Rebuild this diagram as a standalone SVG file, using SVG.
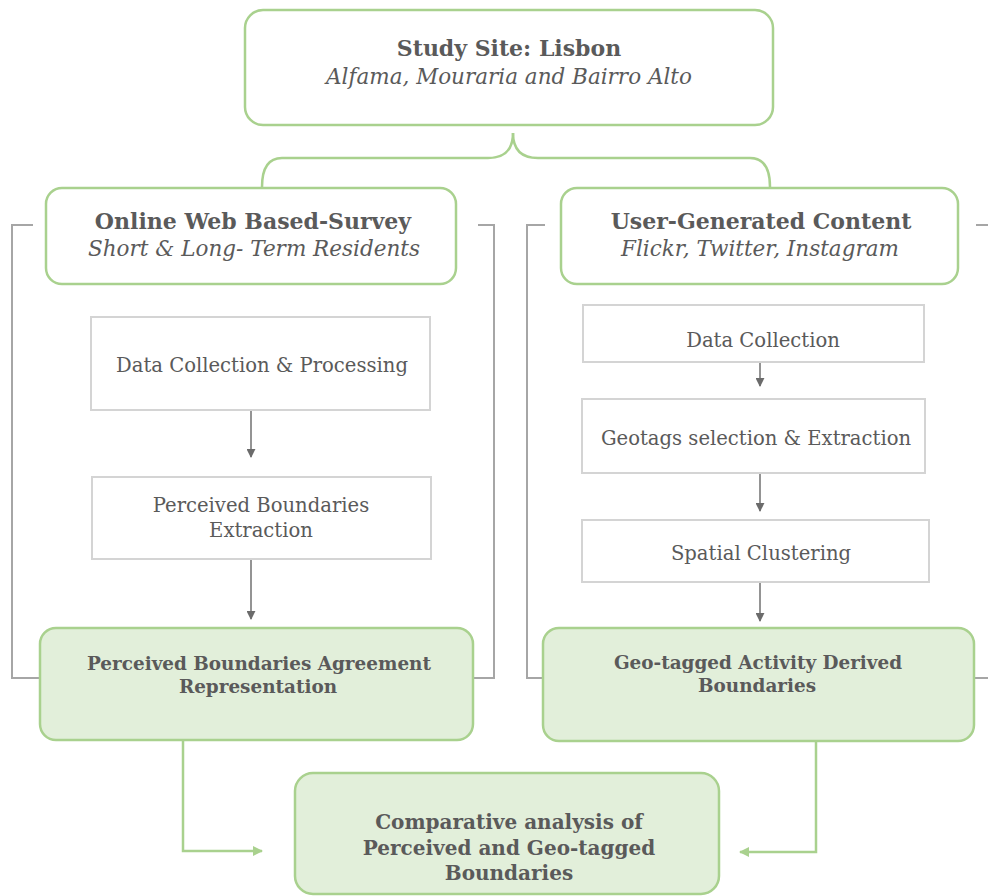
<svg xmlns="http://www.w3.org/2000/svg" width="988" height="896" viewBox="0 0 988 896">
<defs>
<style>
.g{fill:#fff;stroke:#a9d18e;stroke-width:2.5}
.gf{fill:#e2efda;stroke:#a9d18e;stroke-width:2.5}
.b{fill:#fff;stroke:#d4d4d4;stroke-width:2}
.t{font-family:"DejaVu Serif","Liberation Serif",serif;fill:#5a5a5a;text-anchor:middle}
.bold{font-weight:bold}
.it{font-style:italic}
.gl{fill:none;stroke:#a6a6a6;stroke-width:2}
.ga{fill:none;stroke:#707070;stroke-width:1.5}
.gc{fill:none;stroke:#a9d18e;stroke-width:2.5}
</style>
<marker id="ah" viewBox="0 0 10 10" refX="9" refY="5" markerWidth="9" markerHeight="9" markerUnits="userSpaceOnUse" orient="auto"><path d="M0,0 L10,5 L0,10 z" fill="#6b6b6b"/></marker>
<marker id="gh" viewBox="0 0 10 10" refX="9" refY="5" markerWidth="10" markerHeight="10" markerUnits="userSpaceOnUse" orient="auto"><path d="M0,0 L10,5 L0,10 z" fill="#a9d18e"/></marker>
</defs>
<g id="connectors">
<path class="gc" d="M513,133 Q513,158 538,158 L750,158 Q770,158 770,187"/>
<path class="gc" d="M513,133 Q513,158 488,158 L282,158 Q262,158 262,187"/>
<path class="gl" d="M33,225 H12 V678 H40"/>
<path class="gl" d="M478,225 H494 V678 H472"/>
<path class="gl" d="M545,225 H527 V678 H543"/>
<path class="gl" d="M976,225 H988"/>
<path class="gl" d="M974,678 H988"/>
<path class="ga" d="M251,411 V457" marker-end="url(#ah)"/>
<path class="ga" d="M251,560 V619" marker-end="url(#ah)"/>
<path class="ga" d="M760,363 V386" marker-end="url(#ah)"/>
<path class="ga" d="M760,474 V511" marker-end="url(#ah)"/>
<path class="ga" d="M760,583 V621" marker-end="url(#ah)"/>
<path class="gc" d="M183,741 V851 H262" marker-end="url(#gh)"/>
<path class="gc" d="M816,741 V852 H740" marker-end="url(#gh)"/>
</g>
<g id="study-site">
<rect class="g" x="245" y="10" width="528" height="115" rx="18"/>
<text class="t bold" x="509" y="56" font-size="22">Study Site: Lisbon</text>
<text class="t it" x="509" y="84" font-size="21.5">Alfama, Mouraria and Bairro Alto</text>
</g>
<g id="survey">
<rect class="g" x="46" y="188" width="410" height="96" rx="16"/>
<text class="t bold" x="253" y="229" font-size="22">Online Web Based-Survey</text>
<text class="t it" x="254" y="256" font-size="21.5">Short &amp; Long- Term Residents</text>
</g>
<g id="ugc">
<rect class="g" x="561" y="188" width="397" height="96" rx="16"/>
<text class="t bold" x="761" y="229" font-size="22">User-Generated Content</text>
<text class="t it" x="760" y="256" font-size="21.5">Flickr, Twitter, Instagram</text>
</g>
<g id="data-processing">
<rect class="b" x="91" y="317" width="339" height="93"/>
<text class="t" x="262" y="372" font-size="19.6">Data Collection &amp; Processing</text>
</g>
<g id="pb-extraction">
<rect class="b" x="92" y="477" width="339" height="82"/>
<text class="t" x="261" y="512" font-size="19.6">Perceived Boundaries</text>
<text class="t" x="261" y="537" font-size="19.6">Extraction</text>
</g>
<g id="pb-agreement">
<rect class="gf" x="40" y="628" width="433" height="112" rx="16"/>
<text class="t bold" x="259" y="670" font-size="18.4">Perceived Boundaries Agreement</text>
<text class="t bold" x="258" y="693" font-size="18.4">Representation</text>
</g>
<g id="data-collection">
<rect class="b" x="583" y="305" width="341" height="57"/>
<text class="t" x="763" y="347" font-size="19.6">Data Collection</text>
</g>
<g id="geotags">
<rect class="b" x="582" y="399" width="343" height="74"/>
<text class="t" x="756" y="445" font-size="19.6">Geotags selection &amp; Extraction</text>
</g>
<g id="spatial">
<rect class="b" x="582" y="520" width="347" height="62"/>
<text class="t" x="761" y="560" font-size="19.6">Spatial Clustering</text>
</g>
<g id="geo-boundaries">
<rect class="gf" x="543" y="628" width="431" height="113" rx="16"/>
<text class="t bold" x="758" y="669" font-size="18.4">Geo-tagged Activity Derived</text>
<text class="t bold" x="757" y="692" font-size="18.4">Boundaries</text>
</g>
<g id="comparative">
<rect class="gf" x="295" y="773" width="424" height="121" rx="18"/>
<text class="t bold" x="509" y="829" font-size="20">Comparative analysis of</text>
<text class="t bold" x="509" y="855" font-size="20">Perceived and Geo-tagged</text>
<text class="t bold" x="509" y="880" font-size="20">Boundaries</text>
</g>
</svg>
